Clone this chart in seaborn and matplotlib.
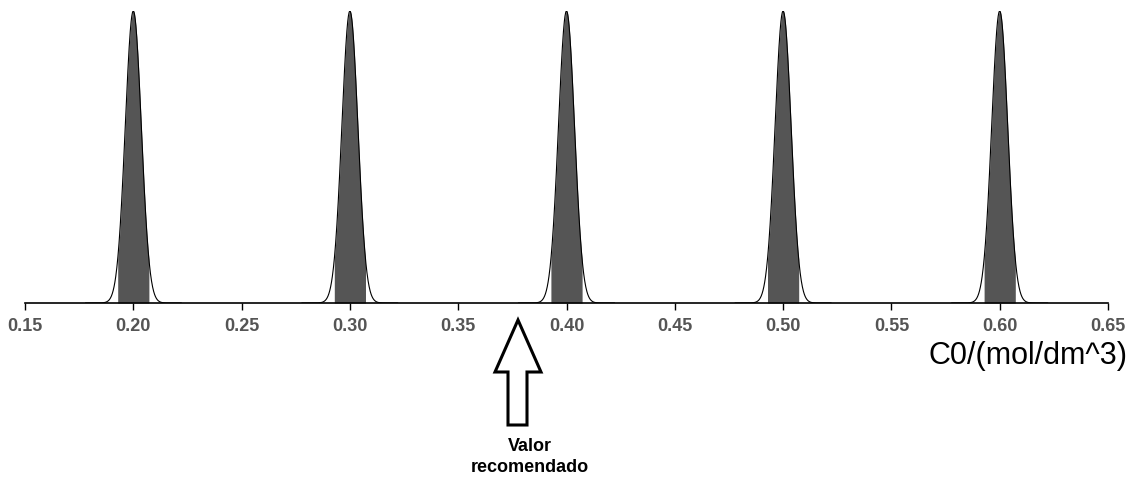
import numpy as np
import pandas as pd
import seaborn as sns
import matplotlib
matplotlib.use("Agg")
import matplotlib.pyplot as plt
from matplotlib.patches import Polygon

# Data
centers = [0.20, 0.30, 0.40, 0.50, 0.60]
sigma = 0.0037
tick_values = [0.15, 0.20, 0.25, 0.30, 0.35, 0.40, 0.45, 0.50, 0.55, 0.60, 0.65]
tick_labels = ["0.15", "0.20", "0.25", "0.30", "0.35", "0.40", "0.45", "0.50", "0.55", "0.60", "0.65"]
xlabel = "C0/(mol/dm^3)"
annot_text = "Valor\nrecomendado"

sns.set_theme(style="white")
plt.rcParams['font.family'] = ['Liberation Sans', 'DejaVu Sans']

fig = plt.figure(figsize=(11.32, 4.81), dpi=100)
ax = fig.add_axes([25/1132, 1-304/481, (1108-25)/1132, (304-12)/481])

x = np.linspace(0.15, 0.65, 5001)
rows = []
for c in centers:
    y = np.exp(-0.5 * ((x - c) / sigma) ** 2)
    mask = np.abs(x - c) < 6 * sigma
    for xi, yi in zip(x[mask], y[mask]):
        rows.append({"x": xi, "y": yi, "center": c})
df = pd.DataFrame(rows)

for c in centers:
    d = df[df["center"] == c]
    sns.lineplot(data=d, x="x", y="y", ax=ax, color="black", linewidth=0.8)
    inside = d[np.abs(d["x"] - c) <= 1.95 * sigma]
    ax.fill_between(inside["x"], 0, inside["y"], color="#555555", linewidth=0)

ax.set_xlim(0.15, 0.65)
ax.set_ylim(0, 1.0)
for s in ["top", "right", "left"]:
    ax.spines[s].set_visible(False)
ax.spines["bottom"].set_color("black")
ax.spines["bottom"].set_linewidth(1.2)
ax.set_yticks([])
ax.set_xticks(tick_values)
ax.set_xticklabels(tick_labels, fontsize=13, fontweight="bold", color="#555555")
ax.tick_params(axis="x", direction="out", length=5, width=1, color="black", pad=5, bottom=True)
ax.set_xlabel("")
ax.set_ylabel("")

fig.text(1128/1132, 1-356/481, xlabel, fontsize=22, ha="right", va="center", color="black")

# Arrow (outlined) in pixel coordinates
px = [(518, 321), (541, 373), (527, 373), (527, 426), (508, 426), (508, 373), (495, 373)]
pts = [(a/1132, 1-b/481) for a, b in px]
arrow = Polygon(pts, closed=True, facecolor="white", edgecolor="black", linewidth=2.2, transform=fig.transFigure)
fig.add_artist(arrow)
fig.text(530/1132, 1-457/481, annot_text, fontsize=13, fontweight="bold", ha="center", va="center", color="black", linespacing=1.25)

fig.savefig("out.png", dpi=100)
